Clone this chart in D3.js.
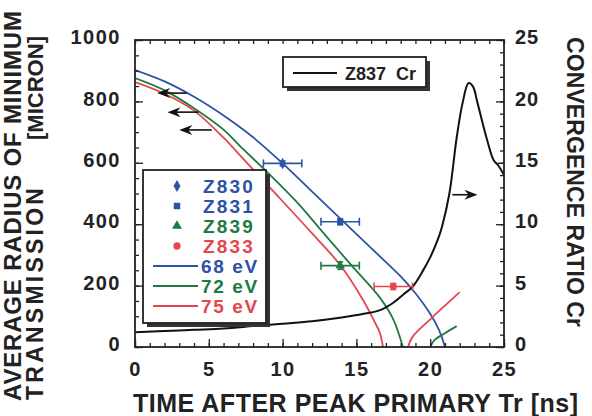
<!DOCTYPE html>
<html>
<head>
<meta charset="utf-8">
<script src="https://cdn.jsdelivr.net/npm/d3@7"></script>
<style>
  body { margin: 0; background: #fff; }
  text { font-family: "Liberation Sans", Arial, Helvetica, sans-serif; font-weight: bold; }
</style>
</head>
<body>
<div id="graph"></div>
<script>
// ---- data ----
var timeTicks = [0, 5, 10, 15, 20, 25];
var radiusTicks = [0, 200, 400, 600, 800, 1000];
var crTicks = [0, 5, 10, 15, 20, 25];

// calculated radius of minimum transmission [micron] vs time [ns]
var curve68 = [[0,902],[2,865],[4,815],[6,754],[8,683],[10,598],[12,506],[14,414],[16,322],[18,230],[19,175],[20,108],[20.6,55],[21,0]];
var curve72 = [[0,876],[2,836],[4,778],[6,708],[7.1,655],[8.8,577],[11,470],[12.7,375],[14.7,264],[16.6,160],[17.5,90],[18.15,0]];
var curve75 = [[0,863],[2,825],[4,770],[6,682],[7.1,625],[9.3,511],[12,370],[13.9,267],[15.45,153],[16.2,85],[16.6,45],[16.8,0]];
// rebounds after stagnation
var rebound72 = [[20.0,0],[20.3,23],[21,45],[21.8,68]];
var rebound75 = [[18.5,0],[18.8,33],[20,90],[21,135],[22.0,179]];

// Z837 convergence ratio (right axis)
var crCurve = [[0,1.2],[2,1.3],[4,1.4],[6,1.5],[8,1.7],[10,1.9],[12,2.1],[14,2.4],[15.5,2.7],[16.6,3.0],[17.5,3.6],[18.2,4.3],[18.8,4.9],[19.5,6.2],[20,7.3],[20.5,8.7],[20.8,9.8],[21.3,12.5],[21.8,17.1],[22.2,19.9],[22.6,21.5],[22.9,21.2],[23.2,19.9],[23.8,17.1],[24.3,15.2],[24.6,14.8],[25,14.0]];

// measured shots
var pointIds = ["Z830", "Z831", "Z839", "Z833"];
var pointTime = [10.0, 13.9, 13.9, 17.5];
var pointRadius = [598, 408, 265, 197];
var pointTimeErr = [1.3, 1.3, 1.3, 1.3];
var pointRadiusErr = [8, 10, 12, 10];

var curveNames = ["68 eV", "72 eV", "75 eV"];

// arrows: [radius or Cr, tail time, tip time]
var leftArrows = [[827, 3.5, 1.5], [765, 4.3, 2.2], [707, 5.2, 3.0]];
var rightArrow = [12.4, 21.5, 23.2];

// ---- layout ----
var blue = "#2d52a6", green = "#1d7a42", red = "#e4464e";
var pointColors = [blue, blue, green, red];
var pointSymbols = [d3.symbolDiamond, d3.symbolSquare, d3.symbolTriangle, d3.symbolCircle];
var curveColors = [blue, green, red];

var margin = {top: 40, right: 88, bottom: 69, left: 135},
    width = 592 - margin.left - margin.right,
    height = 416 - margin.top - margin.bottom;

var xScale = d3.scaleLinear().domain([0, 25]).range([0, width]);
var yScale = d3.scaleLinear().domain([0, 1000]).range([height, 0]);
var y2Scale = d3.scaleLinear().domain([0, 25]).range([height, 0]);

var root = d3.select("#graph").append("svg")
    .attr("width", 592)
    .attr("height", 416);
var svg = root.append("g")
    .attr("transform", "translate(" + margin.left + "," + margin.top + ")");

// clip for curves
svg.append("clipPath").attr("id", "plotclip")
    .append("rect").attr("width", width).attr("height", height);

var line = d3.line()
    .x(function(d) { return xScale(d[0]); })
    .y(function(d) { return yScale(d[1]); })
    .curve(d3.curveCatmullRom.alpha(0.5));
var line2 = d3.line()
    .x(function(d) { return xScale(d[0]); })
    .y(function(d) { return y2Scale(d[1]); })
    .curve(d3.curveCatmullRom.alpha(0.5));

var plot = svg.append("g").attr("clip-path", "url(#plotclip)");

// radius curves
[curve68, curve72, curve75].forEach(function(c, i) {
    plot.append("path").datum(c)
        .attr("d", line)
        .attr("fill", "none")
        .attr("stroke", curveColors[i])
        .attr("stroke-width", 1.8);
});
plot.append("path").datum(rebound72).attr("d", line)
    .attr("fill", "none").attr("stroke", green).attr("stroke-width", 1.8);
plot.append("path").datum(rebound75).attr("d", line)
    .attr("fill", "none").attr("stroke", red).attr("stroke-width", 1.8);

// convergence ratio
plot.append("path").datum(crCurve)
    .attr("d", line2)
    .attr("fill", "none")
    .attr("stroke", "#111")
    .attr("stroke-width", 2);

// data points with error bars
pointIds.forEach(function(id, i) {
    var cx = xScale(pointTime[i]), cy = yScale(pointRadius[i]);
    var x0 = xScale(pointTime[i] - pointTimeErr[i]), x1 = xScale(pointTime[i] + pointTimeErr[i]);
    var ya = yScale(pointRadius[i] - pointRadiusErr[i]), yb = yScale(pointRadius[i] + pointRadiusErr[i]);
    var g = svg.append("g").attr("stroke", pointColors[i]).attr("stroke-width", 1.6);
    g.append("line").attr("x1", x0).attr("x2", x1).attr("y1", cy).attr("y2", cy);
    g.append("line").attr("x1", x0).attr("x2", x0).attr("y1", cy - 4).attr("y2", cy + 4);
    g.append("line").attr("x1", x1).attr("x2", x1).attr("y1", cy - 4).attr("y2", cy + 4);
    g.append("line").attr("x1", cx).attr("x2", cx).attr("y1", ya).attr("y2", yb);
    g.append("line").attr("x1", cx - 3).attr("x2", cx + 3).attr("y1", ya).attr("y2", ya);
    g.append("line").attr("x1", cx - 3).attr("x2", cx + 3).attr("y1", yb).attr("y2", yb);
    svg.append("path")
        .attr("d", d3.symbol().type(pointSymbols[i]).size(38)())
        .attr("transform", "translate(" + cx + "," + cy + ")")
        .attr("fill", pointColors[i]);
});

// arrows
function arrow(xTail, xTip, yy) {
    var dir = xTip > xTail ? 1 : -1;
    svg.append("line")
        .attr("x1", xTail).attr("x2", xTip - dir * 4)
        .attr("y1", yy).attr("y2", yy)
        .attr("stroke", "#111").attr("stroke-width", 1.6);
    svg.append("path")
        .attr("d", "M" + xTip + "," + yy +
            "L" + (xTip - dir * 13) + "," + (yy - 5) +
            "L" + (xTip - dir * 9) + "," + yy +
            "L" + (xTip - dir * 13) + "," + (yy + 5) + "Z")
        .attr("fill", "#111");
}
leftArrows.forEach(function(a) {
    arrow(xScale(a[1]), xScale(a[2]), yScale(a[0]));
});
arrow(xScale(rightArrow[1]), xScale(rightArrow[2]), y2Scale(rightArrow[0]));

// ---- axes (ticks inside) ----
function minorTicks(a, b, step) { return d3.range(a, b + step / 2, step); }

var fontTick = "20px";
svg.append("g")
    .attr("transform", "translate(0," + height + ")")
    .call(d3.axisBottom(xScale).tickValues(minorTicks(0, 25, 1)).tickSize(-4).tickFormat(""));
svg.append("g")
    .attr("transform", "translate(0," + height + ")")
    .call(d3.axisBottom(xScale).tickValues(timeTicks).tickSize(-8).tickPadding(15).tickFormat(d3.format("d")))
    .call(function(g) { g.selectAll("text").style("font-size", fontTick).style("letter-spacing", "1.5px").attr("fill", "#222"); });
svg.append("g")
    .call(d3.axisTop(xScale).tickValues(minorTicks(0, 25, 1)).tickSize(-4).tickFormat(""));
svg.append("g")
    .call(d3.axisLeft(yScale).tickValues(minorTicks(0, 1000, 50)).tickSize(-4).tickFormat(""));
svg.append("g")
    .call(d3.axisLeft(yScale).tickValues(radiusTicks).tickSize(-8).tickPadding(14).tickFormat(d3.format("d")))
    .call(function(g) { g.selectAll("text").style("font-size", fontTick).style("letter-spacing", "1.5px").attr("dy", "0.18em").attr("fill", "#222"); });
svg.append("g")
    .attr("transform", "translate(" + width + ",0)")
    .call(d3.axisRight(y2Scale).tickValues(minorTicks(0, 25, 1)).tickSize(-4).tickFormat(""));
svg.append("g")
    .attr("transform", "translate(" + width + ",0)")
    .call(d3.axisRight(y2Scale).tickValues(crTicks).tickSize(-8).tickPadding(11).tickFormat(d3.format("d")))
    .call(function(g) { g.selectAll("text").style("font-size", fontTick).style("letter-spacing", "1px").attr("dy", "0.18em").attr("fill", "#222"); });

svg.selectAll(".domain").remove();
svg.selectAll(".tick line").attr("stroke", "#222").attr("stroke-width", 1.3);
svg.append("rect")
    .attr("width", width).attr("height", height)
    .attr("fill", "none").attr("stroke", "#222").attr("stroke-width", 1.8);

// ---- legends ----
function shadowBox(x, y, w, h) {
    root.append("rect").attr("x", x + 4).attr("y", y + 4).attr("width", w).attr("height", h)
        .attr("fill", "#333");
    root.append("rect").attr("x", x).attr("y", y).attr("width", w).attr("height", h)
        .attr("fill", "#fff").attr("stroke", "#222").attr("stroke-width", 1.8);
}

shadowBox(143, 170, 123, 153);
pointIds.forEach(function(id, i) {
    var yy = 186 + i * 20;
    root.append("path")
        .attr("d", d3.symbol().type(pointSymbols[i]).size(42)())
        .attr("transform", "translate(177," + yy + ")")
        .attr("fill", pointColors[i]);
    root.append("text").attr("x", 203).attr("y", yy + 7)
        .style("font-size", "19px").style("letter-spacing", "2.2px")
        .attr("fill", pointColors[i]).text(id);
});
curveNames.forEach(function(name, i) {
    var yy = 266 + i * 20;
    root.append("line").attr("x1", 153).attr("x2", 198).attr("y1", yy).attr("y2", yy)
        .attr("stroke", curveColors[i]).attr("stroke-width", 1.8);
    root.append("text").attr("x", 201).attr("y", yy + 7)
        .style("font-size", "19px").style("letter-spacing", "1.6px")
        .attr("fill", curveColors[i]).text(name);
});

shadowBox(283, 57, 143, 30);
root.append("line").attr("x1", 293).attr("x2", 337).attr("y1", 73).attr("y2", 73)
    .attr("stroke", "#111").attr("stroke-width", 1.8);
root.append("text").attr("x", 345).attr("y", 79.5)
    .style("font-size", "18px").attr("fill", "#222").text("Z837\u00a0\u00a0Cr");

// ---- axis titles ----
root.append("text")
    .attr("x", 133).attr("y", 412)
    .attr("textLength", 445).attr("lengthAdjust", "spacing")
    .style("font-size", "25px").attr("fill", "#222")
    .text("TIME AFTER PEAK PRIMARY Tr [ns]");

root.append("text")
    .attr("transform", "translate(21,206) rotate(-90)")
    .attr("text-anchor", "middle")
    .attr("textLength", 390).attr("lengthAdjust", "spacing")
    .style("font-size", "24px").attr("fill", "#222")
    .text("AVERAGE RADIUS OF MINIMUM");
root.append("text")
    .attr("transform", "translate(43,400) rotate(-90)")
    .attr("textLength", 212).attr("lengthAdjust", "spacing")
    .style("font-size", "23px").attr("fill", "#222")
    .text("TRANSMISSION");
root.append("text")
    .attr("transform", "translate(43,140) rotate(-90)")
    .attr("textLength", 104).attr("lengthAdjust", "spacing")
    .style("font-size", "22px").attr("fill", "#222")
    .text("[MICRON]");

root.append("text")
    .attr("transform", "translate(567,182) rotate(90)")
    .attr("text-anchor", "middle")
    .attr("textLength", 290).attr("lengthAdjust", "spacing")
    .style("font-size", "23px").attr("fill", "#222")
    .text("CONVERGENCE RATIO Cr");
</script>
</body>
</html>
